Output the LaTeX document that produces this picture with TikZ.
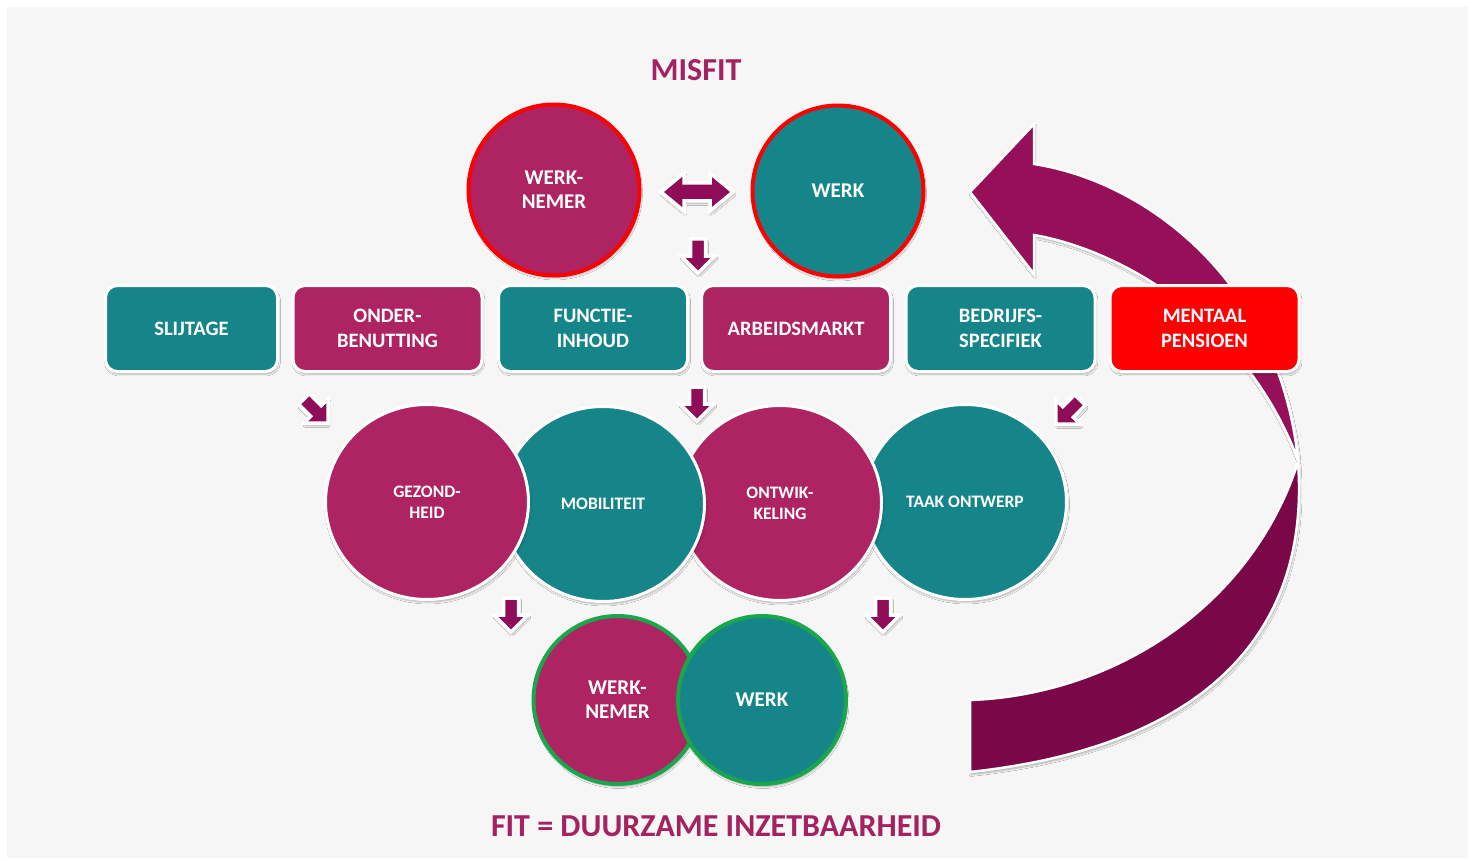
\documentclass[tikz,border=0pt]{standalone}
\usepackage{fontspec}
\setmainfont{Carlito}
\usetikzlibrary{shadows,shadows.blur,shapes.geometric}
\definecolor{mag}{HTML}{AE2362}
\definecolor{tealc}{HTML}{16858A}
\definecolor{arrowmag}{HTML}{8E0C58}
\definecolor{bigup}{HTML}{950F59}
\definecolor{biglow}{HTML}{7A0848}
\definecolor{titlemag}{HTML}{A3225F}
\definecolor{fitgreen}{HTML}{1AA64A}
\definecolor{bggrey}{HTML}{F6F6F6}
\tikzset{
  shad/.style={blur shadow={shadow blur steps=6, shadow xshift=1pt, shadow yshift=-2.5pt, shadow opacity=30}},
  boxnode/.style={rectangle, rounded corners=12pt, draw=white, line width=3pt, shad,
    minimum width=189pt, minimum height=86pt, inner sep=0pt, text=white, align=center,
    font=\bfseries\fontsize{20.5}{25}\selectfont},
  circnode/.style={circle, draw=white, line width=3pt, shad, inner sep=0pt, text=white, align=center},
  topcirc/.style={circnode, draw=red, line width=4pt, minimum size=171pt, font=\bfseries\fontsize{21}{24}\selectfont},
  midcirc/.style={ellipse, draw=white, line width=3pt, shad, inner sep=0pt, text=white, align=center,
    minimum width=203pt, minimum height=195pt, font=\bfseries\fontsize{17.5}{21}\selectfont},
  botcirc/.style={circnode, draw=fitgreen, line width=4pt, minimum size=168pt, font=\bfseries\fontsize{21}{24}\selectfont},
  smallarr/.style={fill=arrowmag, draw=white, line width=3.5pt, line join=miter, shad},
  bigarr/.style={draw=white, line width=2.5pt, shad},
  titletext/.style={text=titlemag, font=\bfseries\fontsize{32}{36}\selectfont},
  darrow/.pic={\path[smallarr] (-7.5,-17) -- (7.5,-17) -- (7.5,0) -- (17,0) -- (0,17) -- (-17,0) -- (-7.5,0) -- cycle;}
}
\begin{document}
\begin{tikzpicture}[x=1pt,y=-1pt]
\useasboundingbox (0,0) rectangle (1475,861);
\fill[white] (0,0) rectangle (1475,861);
\fill[bggrey] (7,7) rectangle (1468,858);

% big curved arrow: back part with head
\path[bigarr, fill=bigup] (970,192) -- (1034,124) -- (1034,164)
  .. controls (1150,182) and (1280,285) .. (1298,460)
  .. controls (1245,320) and (1120,250) .. (1034,235)
  -- (1034,274) -- cycle;
% front part
\path[bigarr, fill=biglow] (1298,462)
  .. controls (1310,620) and (1220,745) .. (970,772)
  -- (970,700)
  .. controls (1110,695) and (1250,610) .. (1298,462) -- cycle;

\node[titletext] (misfit) at (696,70) {MISFIT};

% top circles
\node[topcirc, fill=mag] (wn1) at (554,190) {WERK-\\NEMER};
\node[topcirc, fill=tealc] (w1) at (838,191) {WERK};

% double arrow
\path[smallarr] (661,192) -- (684,173) -- (684,183) -- (710,183) -- (710,173) -- (733,192)
  -- (710,211) -- (710,201) -- (684,201) -- (684,211) -- cycle;
\pic at (698,256) {darrow};

% boxes
\node[boxnode, fill=tealc, minimum width=172pt] (b1) at (191.5,328.5) {SLIJTAGE};
\node[boxnode, fill=mag] (b2) at (387.5,328.5) {ONDER-\\BENUTTING};
\node[boxnode, fill=tealc] (b3) at (593,328.5) {FUNCTIE-\\INHOUD};
\node[boxnode, fill=mag] (b4) at (796,328.5) {ARBEIDSMARKT};
\node[boxnode, fill=tealc] (b5) at (1000.5,328.5) {BEDRIJFS-\\SPECIFIEK};
\node[boxnode, fill=red] (b6) at (1204.5,328.5) {MENTAAL\\PENSIOEN};

% small arrows
\pic[rotate=45] at (316,411) {darrow};
\pic at (697,404) {darrow};
\pic[rotate=-45] at (1068,412) {darrow};

% middle circles (leftmost on top)
\node[midcirc, fill=tealc] (c4) at (965,502) {TAAK ONTWERP};
\node[midcirc, fill=mag] (c3) at (780,503) {ONTWIK-\\KELING};
\node[midcirc, fill=tealc] (c2) at (603,504) {MOBILITEIT};
\node[midcirc, fill=mag] (c1) at (427,502) {GEZOND-\\HEID};

\pic at (511,615) {darrow};
\pic at (883,615) {darrow};

% bottom circles
\node[botcirc, fill=mag] (wn2) at (617.5,700) {WERK-\\NEMER};
\node[botcirc, fill=tealc] (w2) at (762,700) {WERK};

\node[titletext] (fit) at (716,826) {FIT = DUURZAME INZETBAARHEID};
\end{tikzpicture}
\end{document}
